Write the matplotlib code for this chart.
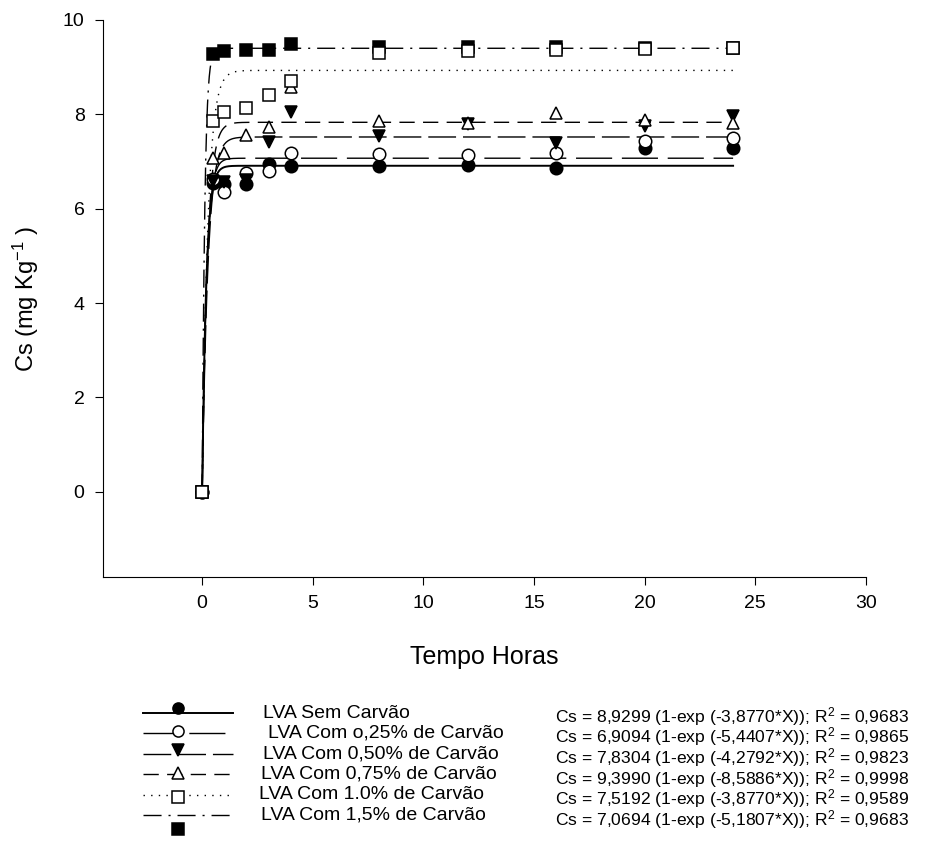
import numpy as np
import matplotlib
matplotlib.use('Agg')
import matplotlib.pyplot as plt

plt.rcParams['font.family'] = ['Liberation Sans', 'DejaVu Sans']
plt.rcParams['mathtext.fontset'] = 'custom'
plt.rcParams['mathtext.rm'] = 'Liberation Sans'
plt.rcParams['mathtext.it'] = 'Liberation Sans'

# dados
tempo = [0, 0.5, 1, 2, 3, 4, 8, 12, 16, 20, 24]
sem = [0, 6.55, 6.52, 6.52, 6.95, 6.90, 6.91, 6.93, 6.87, 7.28, 7.28]
c025 = [0, 6.62, 6.36, 6.75, 6.79, 7.17, 7.16, 7.14, 7.19, 7.44, 7.49]
c050 = [0, 6.58, 6.57, 6.60, 7.41, 8.05, 7.53, 7.80, 7.39, 7.76, 7.97]
c075 = [0, 7.08, 7.18, 7.56, 7.74, 8.57, 7.85, 7.82, 8.02, 7.88, 7.81]
c100 = [0, 7.85, 8.04, 8.13, 8.40, 8.70, 9.30, 9.34, 9.36, 9.38, 9.40]
c150 = [0, 9.27, 9.34, 9.36, 9.36, 9.48, 9.43, 9.42, 9.42, 9.40, 9.40]

# parametros do ajuste Cs = a (1-exp(-b*X))
a_fit = [6.9094, 7.0694, 7.5192, 7.8304, 8.9299, 9.3990]
b_fit = [5.4407, 5.1807, 3.8770, 4.2792, 3.8770, 8.5886]

rotulos = ['LVA Sem Carvão', 'LVA Com o,25% de Carvão', 'LVA Com 0,50% de Carvão',
           'LVA Com 0,75% de Carvão', 'LVA Com 1.0% de Carvão', 'LVA Com 1,5% de Carvão']
equacoes = ['Cs = 8,9299 (1-exp (-3,8770*X)); R$^{2}$ = 0,9683',
            'Cs = 6,9094 (1-exp (-5,4407*X)); R$^{2}$ = 0,9865',
            'Cs = 7,8304 (1-exp (-4,2792*X)); R$^{2}$ = 0,9823',
            'Cs = 9,3990 (1-exp (-8,5886*X)); R$^{2}$ = 0,9998',
            'Cs = 7,5192 (1-exp (-3,8770*X)); R$^{2}$ = 0,9589',
            'Cs = 7,0694 (1-exp (-5,1807*X)); R$^{2}$ = 0,9683']

series = [sem, c025, c050, c075, c100, c150]
marcadores = ['o', 'o', 'v', '^', 's', 's']
faces = ['black', 'white', 'black', 'white', 'white', 'black']
estilos = ['-', (0, (26, 7)), (0, (20, 5)), (0, (11, 6)), (0, (1, 4.5)), (0, (13, 5, 1.5, 5))]
larguras = [1.4, 1.0, 1.0, 1.0, 1.0, 1.0]
ordem_z = [4, 5, 6, 7, 8, 3]

fig = plt.figure(figsize=(9.33, 8.66), dpi=100)
ax = fig.add_axes([0.110, 0.334, 0.818, 0.643])

xx = np.linspace(0, 24, 600)
for i in range(6):
    ax.plot(xx, a_fit[i] * (1 - np.exp(-b_fit[i] * xx)), color='black',
            linestyle=estilos[i], linewidth=larguras[i], zorder=2)
for i in range(6):
    ax.plot(tempo, series[i], linestyle='none', marker=marcadores[i], markersize=9,
            markerfacecolor=faces[i], markeredgecolor='black', markeredgewidth=1.1,
            zorder=ordem_z[i])

ax.set_xlim(-4.5, 30)
ax.set_ylim(-1.8, 10)
ax.set_xticks([0, 5, 10, 15, 20, 25, 30])
ax.set_yticks([0, 2, 4, 6, 8, 10])
ax.spines['top'].set_visible(False)
ax.spines['right'].set_visible(False)
ax.tick_params(direction='out', length=6, labelsize=14, pad=7)
ax.set_xlabel('Tempo Horas', fontsize=18, labelpad=24)
ax.set_ylabel('Cs (mg Kg$^{-1}$ )', fontsize=17, labelpad=16)

# legenda desenhada a mao, em pixels da figura
leg = fig.add_axes([0, 0, 1, 1])
leg.set_xlim(0, 933)
leg.set_ylim(866, 0)
leg.axis('off')
ys = 713 + 20.4 * np.arange(6)
desloc = [-5, -2, -4, -1, 2, 14]
xtexto = [263, 268, 263, 261, 259, 261]
for i in range(6):
    leg.plot([143, 233], [ys[i], ys[i]], color='black', linestyle=estilos[i],
             linewidth=larguras[i])
    leg.plot([178], [ys[i] + desloc[i]], linestyle='none', marker=marcadores[i], markersize=8,
             markerfacecolor=faces[i], markeredgecolor='black', markeredgewidth=1.1)
    leg.text(xtexto[i], ys[i], rotulos[i], fontsize=14, va='center', ha='left')

# equacoes num unico bloco de texto
leg.text(555, 705, '\n'.join(equacoes), fontsize=12.6, va='top', ha='left',
         linespacing=0.865)

plt.savefig('out.png', dpi=100)
